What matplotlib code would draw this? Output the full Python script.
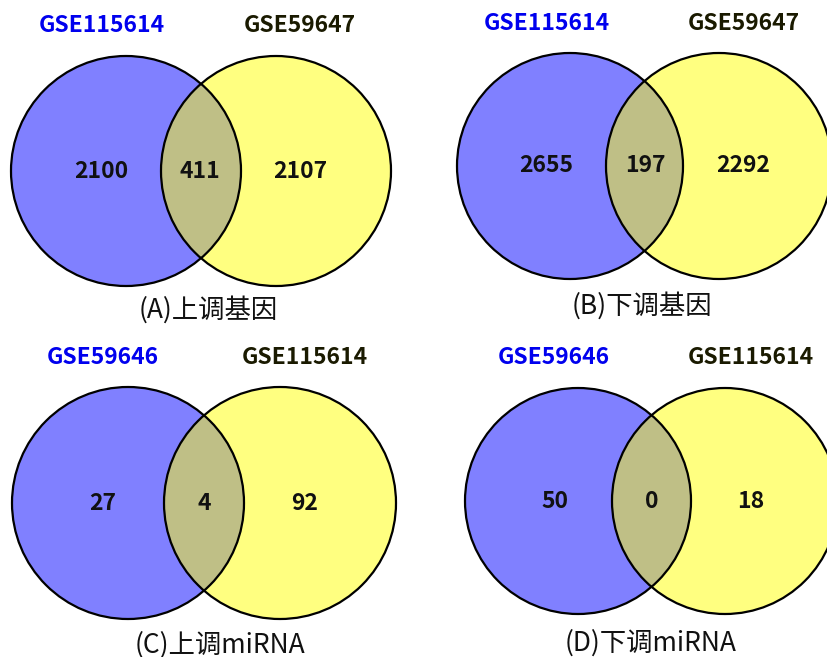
import matplotlib
matplotlib.use("Agg")
import matplotlib.pyplot as plt
from matplotlib.patches import Circle

# ---- data ----
captions = ["(A)上调基因", "(B)下调基因", "(C)上调miRNA", "(D)下调miRNA"]
left_names = ["GSE115614", "GSE115614", "GSE59646", "GSE59646"]
right_names = ["GSE59647", "GSE59647", "GSE115614", "GSE115614"]
left_only = [2100, 2655, 27, 50]
overlap = [411, 197, 4, 0]
right_only = [2107, 2292, 92, 18]

# ---- layout (pixel coordinates) ----
# circles: (left cx, right cx, cy, r)
circles = [
    (126, 276, 171, 115),
    (570, 719, 166, 113),
    (128, 280, 503, 116),
    (578, 725, 501, 113),
]
text_x = [
    (101, 200, 300),
    (546, 645, 743),
    (103, 204, 305),
    (555, 652, 751),
]
name_x = [
    (102, 300),
    (547, 744),
    (103, 305),
    (554, 751),
]
label_y = [25, 23, 357, 358]
cap_pos = [(208, 310), (642, 306), (220, 645), (651, 643)]

BLUE = "#8080FF"
YELLOW = "#FFFF80"
OVER = "#BFBF86"

fig = plt.figure(figsize=(8.28, 6.57), dpi=100)
ax = fig.add_axes([0, 0, 1, 1])
ax.set_xlim(0, 828)
ax.set_ylim(657, 0)
ax.set_aspect("equal")
ax.axis("off")

bold = dict(family=["Noto Sans CJK SC", "DejaVu Sans"], fontweight="bold", fontsize=16.5)
cap_font = dict(family=["Noto Sans CJK SC", "DejaVu Sans"], fontsize=19)

for i in range(4):
    lx, rx, cy, r = circles[i]
    c1 = Circle((lx, cy), r, facecolor=BLUE, edgecolor="none", zorder=1)
    c2 = Circle((rx, cy), r, facecolor=YELLOW, edgecolor="none", zorder=1)
    ax.add_patch(c1)
    ax.add_patch(c2)
    lens = Circle((lx, cy), r, facecolor=OVER, edgecolor="none", zorder=2)
    ax.add_patch(lens)
    clip = Circle((rx, cy), r, transform=ax.transData, facecolor="none", edgecolor="none")
    ax.add_patch(clip)
    lens.set_clip_path(clip)
    for cx in (lx, rx):
        ax.add_patch(Circle((cx, cy), r, facecolor="none", edgecolor="black",
                            linewidth=1.6, zorder=3))
    tl, tm, tr = text_x[i]
    ax.text(tl, cy, str(left_only[i]), ha="center", va="center", color="#111111", zorder=4, **bold)
    ax.text(tm, cy, str(overlap[i]), ha="center", va="center", color="#111111", zorder=4, **bold)
    ax.text(tr, cy, str(right_only[i]), ha="center", va="center", color="#111111", zorder=4, **bold)
    nl, nr = name_x[i]
    ax.text(nl, label_y[i], left_names[i], ha="center", va="center", color="#0000EE", zorder=4, **bold)
    ax.text(nr, label_y[i], right_names[i], ha="center", va="center", color="#1A1A00", zorder=4, **bold)
    ax.text(cap_pos[i][0], cap_pos[i][1], captions[i], ha="center", va="center",
            color="#111111", zorder=4, **cap_font)

fig.savefig("out.png", dpi=100, facecolor="white")
